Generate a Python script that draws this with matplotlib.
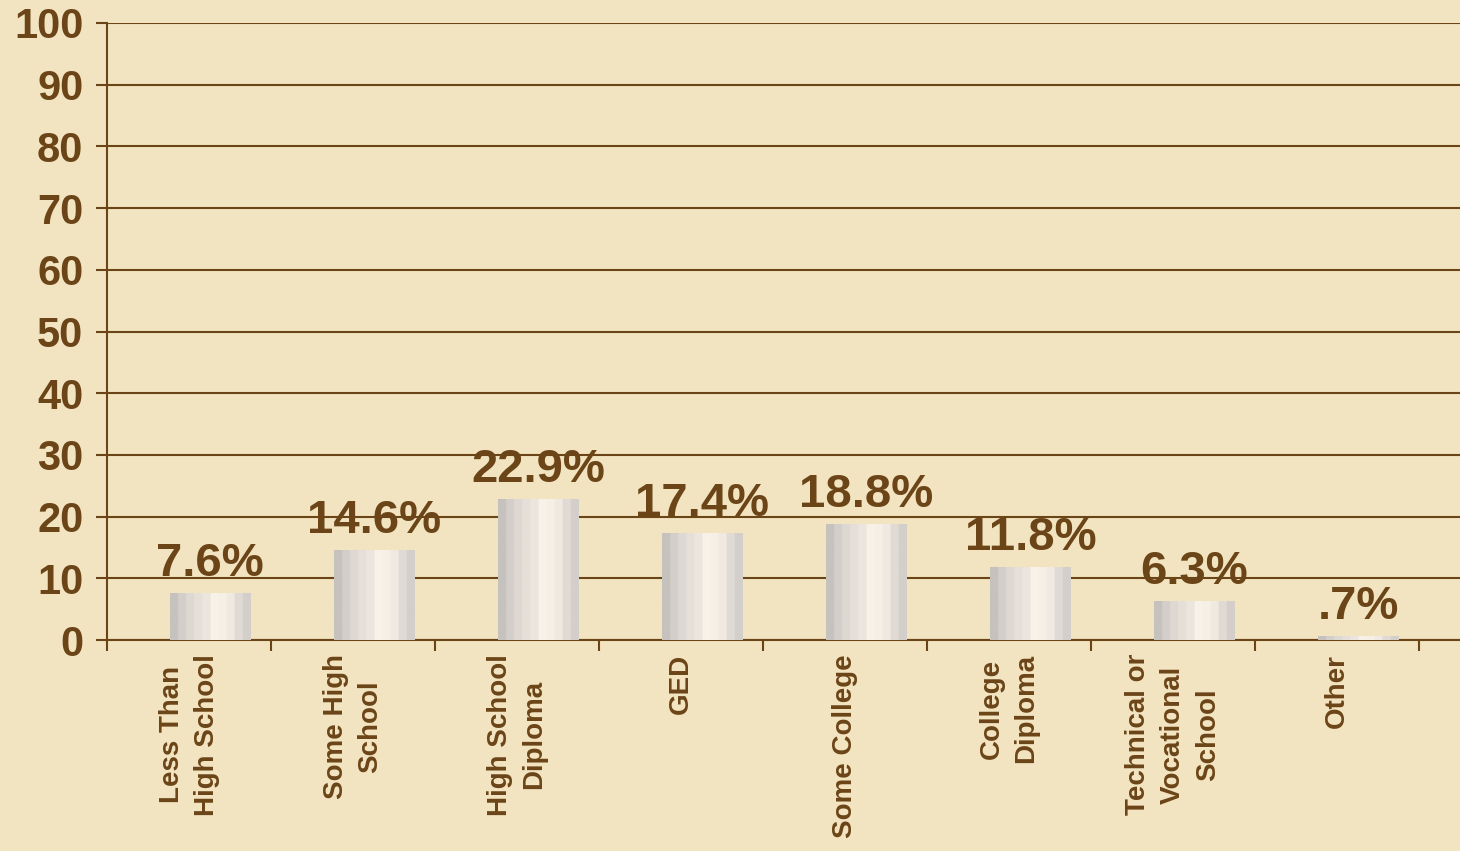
import matplotlib.pyplot as plt
import numpy as np
from matplotlib.colors import LinearSegmentedColormap

categories = ["Less Than\nHigh School", "Some High\nSchool", "High School\nDiploma", "GED",
              "Some College", "College\nDiploma", "Technical or\nVocational\nSchool", "Other"]
values = [7.6, 14.6, 22.9, 17.4, 18.8, 11.8, 6.3, 0.7]
value_labels = ["7.6%", "14.6%", "22.9%", "17.4%", "18.8%", "11.8%", "6.3%", ".7%"]
yticks = list(range(0, 101, 10))

brown = "#6B4518"
bg = "#F2E4C1"
plt.rcParams['font.family'] = ['Liberation Sans', 'DejaVu Sans']

fig = plt.figure(figsize=(14.6, 8.51), dpi=100, facecolor=bg)
ax = fig.add_axes([0.0733, 0.2479, 0.9267, 0.7251])
ax.set_facecolor(bg)

x = np.arange(len(categories))
offset = 0.13
bars = ax.bar(x + offset, values, width=0.49, color="#E6E0D8", zorder=3)

# stripy grey-to-cream shading across each bar
cmap = LinearSegmentedColormap.from_list("barshade", [
    (0.0, "#C6C2BE"), (0.12, "#D5D0CB"), (0.25, "#E0DBD5"), (0.45, "#ECE6DE"),
    (0.55, "#F8F2E9"), (0.75, "#F4EEE5"), (0.85, "#E4DED7"), (1.0, "#D4CFCA")], N=10)
grad = np.linspace(0, 1, 256).reshape(1, -1)
for b in bars:
    im = ax.imshow(grad, cmap=cmap, aspect="auto", zorder=4,
                   extent=[b.get_x(), b.get_x() + b.get_width(), 0, b.get_height()])
    im.set_clip_path(b)

for b, lab in zip(bars, value_labels):
    ax.annotate(lab, (b.get_x() + b.get_width() / 2, b.get_height()),
                xytext=(0, 5), textcoords="offset points", ha="center", va="bottom",
                fontsize=34, fontweight="bold", color=brown, zorder=6)

ax.set_xlim(-0.5, 7.75)
ax.set_ylim(0, 100)
ax.set_yticks(yticks)
ax.set_yticklabels([str(t) for t in yticks], fontsize=30, fontweight="bold", color=brown)
ax.tick_params(axis="y", length=8, width=1.5, color=brown, pad=9)
ax.yaxis.grid(True, color=brown, linewidth=1.5, zorder=1)
ax.set_axisbelow(True)

ax.set_xticks(np.arange(-0.5, 8, 1))
ax.set_xticklabels([])
ax.tick_params(axis="x", which="major", length=8, width=1.5, color=brown)
ax.set_xticks(x, minor=True)
ax.set_xticklabels(categories, minor=True, rotation=90, fontsize=20, fontweight="bold",
                   color=brown, va="top", ha="center", multialignment="center", linespacing=1.45)
ax.tick_params(axis="x", which="minor", length=0, pad=10)

for s in ["top", "right"]:
    ax.spines[s].set_visible(False)
for s in ["left", "bottom"]:
    ax.spines[s].set_color(brown)
    ax.spines[s].set_linewidth(1.5)

fig.savefig("out.png", dpi=100, facecolor=bg)
